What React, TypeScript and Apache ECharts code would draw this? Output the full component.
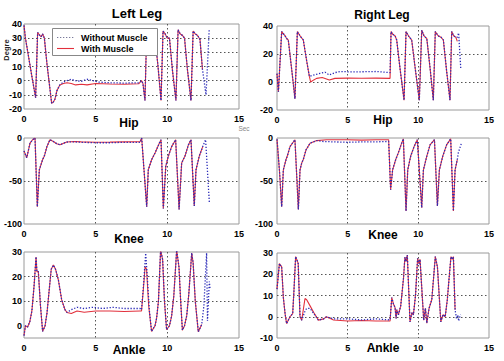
import React, { useEffect, useRef } from "react";
import * as echarts from "echarts";

// ---------- Data (time in seconds, joint angle in degrees) ----------
const xTicks = [0, 5, 10, 15];
const seriesNames = ["Without Muscle", "With Muscle"];
const panelTitles = ["Hip", "Hip", "Knee", "Knee", "Ankle", "Ankle"];
const legTitles = ["Left Leg", "Right Leg"];

// Left hip
const lhStart = [[0, 39], [0.1, 30], [0.3, 18], [0.55, 3], [0.81, -12], [0.95, 34], [1.1, 32], [1.2, 31], [1.3, 33], [1.42, 30], [1.6, 12], [1.8, -5], [1.93, -16], [2.05, -15], [2.16, -13], [2.3, -7], [2.5, -3]];
const lhFlatWith = [[2.75, -2], [3.0, -1.5], [3.3, -2], [3.6, -3], [4.0, -2.5], [4.4, -3], [5, -2], [6, -2.3], [7, -2.5], [8.0, -2.2], [8.2, 0], [8.3, -2]];
const lhFlatWithout = [[2.75, -1], [3.0, 0], [3.3, 1], [3.6, 0], [4.0, -0.5], [4.4, 1], [4.8, 0], [5.2, -1], [6, -1.5], [7, -1.7], [8.0, -1.5], [8.2, 0], [8.3, -2]];
const lhCycles = [[8.44, -14], [8.56, 35], [8.7, 34], [8.85, 32], [9.0, 33], [9.15, 30], [9.35, 10], [9.56, -14], [9.7, 35], [9.85, 33], [10.0, 30], [10.15, 30], [10.35, 8], [10.6, -14], [10.75, 36], [10.9, 33], [11.05, 32], [11.2, 30], [11.4, 8], [11.65, -14], [11.8, 35], [11.95, 33], [12.1, 32], [12.28, 29]];
const lhTailWith = [[12.45, 8]];
const lhTailWithout = [[12.45, 8], [12.7, -10], [12.92, 36]];

// Right hip
const rhStart = [[0, 6], [0.1, -7], [0.33, 36], [0.57, 33], [0.68, 31], [0.8, 30], [1.05, 8], [1.27, -12], [1.44, 36], [1.63, 33], [1.86, 30], [2.1, 15], [2.29, 4]];
const rhFlatWith = [[2.38, 0], [2.6, 1.5], [2.8, 2.6], [3.2, 3.2], [3.7, 1.4], [4.1, 2.6], [5, 2.8], [6, 2.7], [7, 2.8], [8.0, 2.6]];
const rhFlatWithout = [[2.45, 4.5], [2.8, 5.5], [3.04, 6.2], [3.4, 7], [3.7, 5], [4.1, 6.7], [4.5, 7.5], [5, 7.3], [6, 7.3], [7, 7.5], [8.0, 6.7]];
const rhCycles = [[8.07, 36], [8.2, 34], [8.35, 33], [8.47, 30], [8.7, 10], [8.99, -13], [9.13, 36], [9.3, 33], [9.53, 30], [9.8, 8], [10.07, -13], [10.24, 37], [10.4, 33], [10.6, 31], [10.85, 8], [11.06, -13], [11.2, 36], [11.4, 33], [11.6, 32], [11.77, 30], [12.0, 8], [12.24, -13], [12.36, 36], [12.5, 33], [12.65, 32]];
const rhTailWith = [[12.76, 29]];
const rhTailWithout = [[12.76, 32], [12.85, 35], [13.0, 10]];

// Left knee
const lkStart = [[0, -15], [0.19, -23], [0.42, -6], [0.6, -2], [0.77, 0], [0.93, -80], [1.07, -37], [1.3, -25], [1.42, -21], [1.6, -10], [1.81, -2], [2.05, -4], [2.28, -6.6], [2.51, -7.8], [2.98, -4.7]];
const lkFlatWith = [[3.5, -4], [4, -4.5], [5, -5], [6, -4.8], [7, -4.5], [8.1, -4.3], [8.21, 0]];
const lkFlatWithout = [[3.5, -4.5], [4, -5], [5, -5.5], [6, -5.5], [7, -5], [8.1, -5], [8.21, 0]];
const lkCycles = [[8.56, -80], [8.67, -37], [8.91, -25], [9.14, -17.5], [9.44, -6], [9.56, -2], [9.72, -82], [9.89, -33], [10.07, -21], [10.3, -10], [10.58, -2], [10.82, -83], [11.0, -29], [11.23, -21], [11.47, -8], [11.65, -2], [11.88, -79], [12.0, -37], [12.23, -21], [12.47, -10]];
const lkTailWith: number[][] = [];
const lkTailWithout = [[12.67, -2], [12.93, -75]];

// Right knee
const rkStart = [[0, -1.6], [0.17, -37], [0.33, -80], [0.45, -37], [0.64, -25], [0.73, -21], [0.92, -10], [1.27, -2], [1.51, -83], [1.63, -37], [1.75, -29], [1.86, -25], [2.05, -14], [2.34, -6], [2.81, -3]];
const rkFlatWith = [[3.5, -2], [5, -2], [6, -2.5], [7, -2], [7.9, -2]];
const rkFlatWithout = [[3.2, -4], [4, -4.5], [5, -5], [6, -4.5], [7, -4.5], [7.9, -4]];
const rkCycles = [[8.04, -60], [8.18, -37], [8.4, -25], [8.59, -17], [8.82, -6], [8.94, -1], [9.13, -85], [9.25, -37], [9.46, -21], [9.7, -10], [9.93, -2], [10.24, -81], [10.36, -37], [10.6, -21], [10.83, -8], [11.14, -2], [11.35, -79], [11.49, -37], [11.73, -21], [12.0, -8], [12.29, -1], [12.48, -85], [12.6, -37], [12.76, -25]];
const rkTailWith: number[][] = [];
const rkTailWithout = [[12.83, -17], [13.05, -6]];

// Left ankle
const laStart = [[0, -4], [0.1, 0], [0.25, -0.5], [0.4, 1.5], [0.55, 6], [0.7, 16], [0.84, 28], [0.9, 22], [1.0, 22], [1.15, 8], [1.3, -2.3], [1.47, 0], [1.6, 5], [1.75, 14], [1.9, 23], [2.05, 24.7], [2.2, 23], [2.4, 18.6], [2.63, 10.5], [2.86, 6.5], [3.0, 5.4]];
const laFlatWith = [[3.3, 5], [3.7, 6], [4.2, 5.5], [5, 6], [6, 6], [7, 5.8], [8.1, 6], [8.2, 6], [8.33, 15], [8.45, 24], [8.55, 23], [8.7, 8], [8.9, -2.3]];
const laFlatWithout = [[3.3, 6.5], [3.7, 7.5], [4.2, 7], [4.8, 7.5], [5.5, 7], [6.2, 7.5], [7, 7], [8.1, 7], [8.2, 6.5], [8.33, 16], [8.49, 29.5], [8.6, 20], [8.75, 6], [8.9, -2.3]];
const laCycles = [[9.14, 0], [9.25, 3], [9.38, 10], [9.53, 30.7], [9.67, 27], [9.8, 10], [9.95, -1.6], [10.15, 0], [10.3, 4], [10.45, 12], [10.65, 30.7], [10.81, 24], [10.93, 10], [11.05, -1.8], [11.2, 0], [11.35, 4], [11.5, 13], [11.7, 29.6], [11.8, 25.6], [11.95, 10], [12.16, -2.5], [12.4, 0.5]];
const laTailWith: number[][] = [];
const laTailWithout = [[12.55, 8], [12.74, 29.6], [12.8, 2], [12.93, 18], [12.98, 15]];

// Right ankle
const raStart = [[0, 13], [0.17, 25], [0.33, 23.5], [0.45, 9], [0.57, 1.5], [0.68, -3.2], [0.92, 0], [1.11, 1.5], [1.2, 12.5], [1.32, 28.3], [1.5, 25.1], [1.63, 0], [1.75, -1.6]];
const raFlatWith = [[1.98, 8.6], [2.1, 8], [2.35, 5], [2.6, 2], [2.93, -1.6], [3.3, -1], [3.5, 0], [4, -1.5], [5, -2], [6, -1.8], [7, -2], [8.0, -2]];
const raFlatWithout = [[2.0, 3], [2.1, 3.9], [2.35, 3.9], [2.6, 1.5], [2.93, -1.6], [3.3, -1], [3.5, 0], [4, -1], [5, -1], [6, -1.5], [7, -1], [8.0, -1.5]];
const raCycles = [[8.12, 9], [8.24, 6], [8.35, 4.4], [8.43, -0.8], [8.47, 3.3], [8.59, 0.9], [8.75, 5], [8.95, 18], [9.05, 28], [9.13, 26], [9.22, 29], [9.41, -2.4], [9.55, 2], [9.65, 0.9], [9.8, 10], [9.95, 27.5], [10.05, 25], [10.12, 27], [10.38, -1.6], [10.5, 4], [10.6, -3], [10.76, 4], [10.95, 8], [11.1, 20], [11.2, 28.3], [11.35, 23.5], [11.59, -2.4], [11.75, 1], [11.9, 0], [12.05, 8], [12.2, 20], [12.31, 28.3], [12.4, 27], [12.48, 28.3], [12.6, 3.3]];
const raTailWith: number[][] = [];
const raTailWithout = [[12.7, -0.8], [12.8, 0.9], [12.85, -2], [12.95, 0.3], [13.0, 1]];

const FONT = "'Liberation Sans', Arial, Helvetica, sans-serif";
const RED = "#e2303c";
const BLUE = "#2a2ab8";

export default function App() {
  const ref = useRef<HTMLDivElement>(null);

  useEffect(() => {
    if (!ref.current) return;
    const chart = echarts.init(ref.current, null, { renderer: "svg" });

    const panels = [
      { left: 24, top: 24, width: 215, height: 85, min: -20, max: 40, interval: 10, margin: 2,
        withD: [...lhStart, ...lhFlatWith, ...lhCycles, ...lhTailWith],
        withoutD: [...lhStart, ...lhFlatWithout, ...lhCycles, ...lhTailWithout] },
      { left: 277, top: 26, width: 212, height: 84, min: -20, max: 40, interval: 20, margin: 4,
        withD: [...rhStart, ...rhFlatWith, ...rhCycles, ...rhTailWith],
        withoutD: [...rhStart, ...rhFlatWithout, ...rhCycles, ...rhTailWithout] },
      { left: 24, top: 138, width: 215, height: 86, min: -100, max: 0, interval: 50, margin: 2,
        withD: [...lkStart, ...lkFlatWith, ...lkCycles, ...lkTailWith],
        withoutD: [...lkStart, ...lkFlatWithout, ...lkCycles, ...lkTailWithout] },
      { left: 277, top: 138, width: 212, height: 86, min: -100, max: 0, interval: 50, margin: 4,
        withD: [...rkStart, ...rkFlatWith, ...rkCycles, ...rkTailWith],
        withoutD: [...rkStart, ...rkFlatWithout, ...rkCycles, ...rkTailWithout] },
      { left: 24, top: 252, width: 215, height: 86, min: -5, max: 30, custom: [0, 10, 20, 30], margin: 2,
        withD: [...laStart, ...laFlatWith, ...laCycles, ...laTailWith],
        withoutD: [...laStart, ...laFlatWithout, ...laCycles, ...laTailWithout] },
      { left: 277, top: 253, width: 212, height: 85, min: -10, max: 30, interval: 10, margin: 4,
        withD: [...raStart, ...raFlatWith, ...raCycles, ...raTailWith],
        withoutD: [...raStart, ...raFlatWithout, ...raCycles, ...raTailWithout] },
    ];

    const splitLine = {
      show: true,
      showMinLine: false,
      showMaxLine: false,
      lineStyle: { color: "#555", type: [1.5, 2.5] as any, width: 1 },
    };
    const labelStyle = { color: "#000", fontSize: 9, fontWeight: "bold" as const, fontFamily: FONT };

    const grid = panels.map((p) => ({
      left: p.left, top: p.top, width: p.width, height: p.height,
      show: true, borderColor: "#9a9a9a", borderWidth: 1, backgroundColor: "transparent",
    }));

    const xAxis = panels.map((_, i) => ({
      type: "value" as const, gridIndex: i, min: xTicks[0], max: xTicks[xTicks.length - 1], interval: 5,
      axisLine: { show: false }, axisTick: { show: false },
      axisLabel: { ...labelStyle, margin: 5 },
      splitLine,
    }));

    const yAxis = panels.map((p: any, i) => {
      const base: any = {
        type: "value", gridIndex: i, min: p.min, max: p.max,
        axisLine: { show: false },
        axisTick: { show: false },
        axisLabel: { ...labelStyle, margin: p.margin },
        splitLine,
      };
      if (p.custom) {
        base.axisLabel.customValues = p.custom;
        base.axisTick = { show: false, customValues: p.custom };
      } else {
        base.interval = p.interval;
      }
      return base;
    });

    const series: any[] = [];
    panels.forEach((p, i) => {
      series.push({
        name: seriesNames[1], type: "line", xAxisIndex: i, yAxisIndex: i,
        data: p.withD, symbol: "none", showSymbol: false,
        lineStyle: { color: RED, width: 1.1 }, itemStyle: { color: RED }, z: 2,
      });
      series.push({
        name: seriesNames[0], type: "line", xAxisIndex: i, yAxisIndex: i,
        data: p.withoutD, symbol: "none", showSymbol: false,
        lineStyle: { color: BLUE, width: 1.3, type: [1.3, 1.7] }, itemStyle: { color: BLUE }, z: 3,
      });
    });

    const titleStyle = { fill: "#000", fontSize: 12, fontWeight: "bold", fontFamily: FONT, textAlign: "center", textVerticalAlign: "middle" };
    const titlePos = [[129, 123], [383, 120], [129, 239], [383, 235], [129, 350], [383, 348]];
    const legendText = { fill: "#000", fontSize: 9, fontWeight: "bold", fontFamily: FONT, textVerticalAlign: "middle" };

    const graphic: any[] = [
      { type: "text", x: 137, y: 13, style: { ...titleStyle, text: legTitles[0], fontSize: 13 } },
      { type: "text", x: 382, y: 15, style: { ...titleStyle, text: legTitles[1], fontSize: 12 } },
      ...titlePos.map((pos, i) => ({ type: "text", x: pos[0], y: pos[1], style: { ...titleStyle, text: panelTitles[i] } })),
      { type: "text", x: 244, y: 128, style: { text: "Sec", fill: "#888", fontSize: 6.5, fontFamily: FONT, textAlign: "center", textVerticalAlign: "middle" } },
      { type: "text", x: 6, y: 50, rotation: Math.PI / 2, style: { text: "Degre", fill: "#222", fontSize: 7.5, fontWeight: "bold", fontFamily: FONT, textAlign: "center", textVerticalAlign: "middle" } },
      // legend box
      { type: "rect", z: 10, shape: { x: 52.5, y: 28.5, width: 105, height: 27 }, style: { fill: "#fff", stroke: "#888", lineWidth: 1 } },
      { type: "line", z: 11, shape: { x1: 57, y1: 37.5, x2: 74, y2: 37.5 }, style: { stroke: "#7a7a9a", lineWidth: 1.2, lineDash: [1.3, 1.7] } },
      { type: "line", z: 11, shape: { x1: 57, y1: 48.5, x2: 74, y2: 48.5 }, style: { stroke: RED, lineWidth: 1.1 } },
      { type: "text", z: 11, x: 81, y: 37.5, style: { ...legendText, text: seriesNames[0] } },
      { type: "text", z: 11, x: 81, y: 48.5, style: { ...legendText, text: seriesNames[1] } },
    ];

    chart.setOption({
      animation: false,
      backgroundColor: "#fff",
      grid, xAxis, yAxis, series, graphic,
    });

    return () => chart.dispose();
  }, []);

  return <div ref={ref} style={{ position: "fixed", left: 0, top: 0, width: 504, height: 361 }} />;
}
